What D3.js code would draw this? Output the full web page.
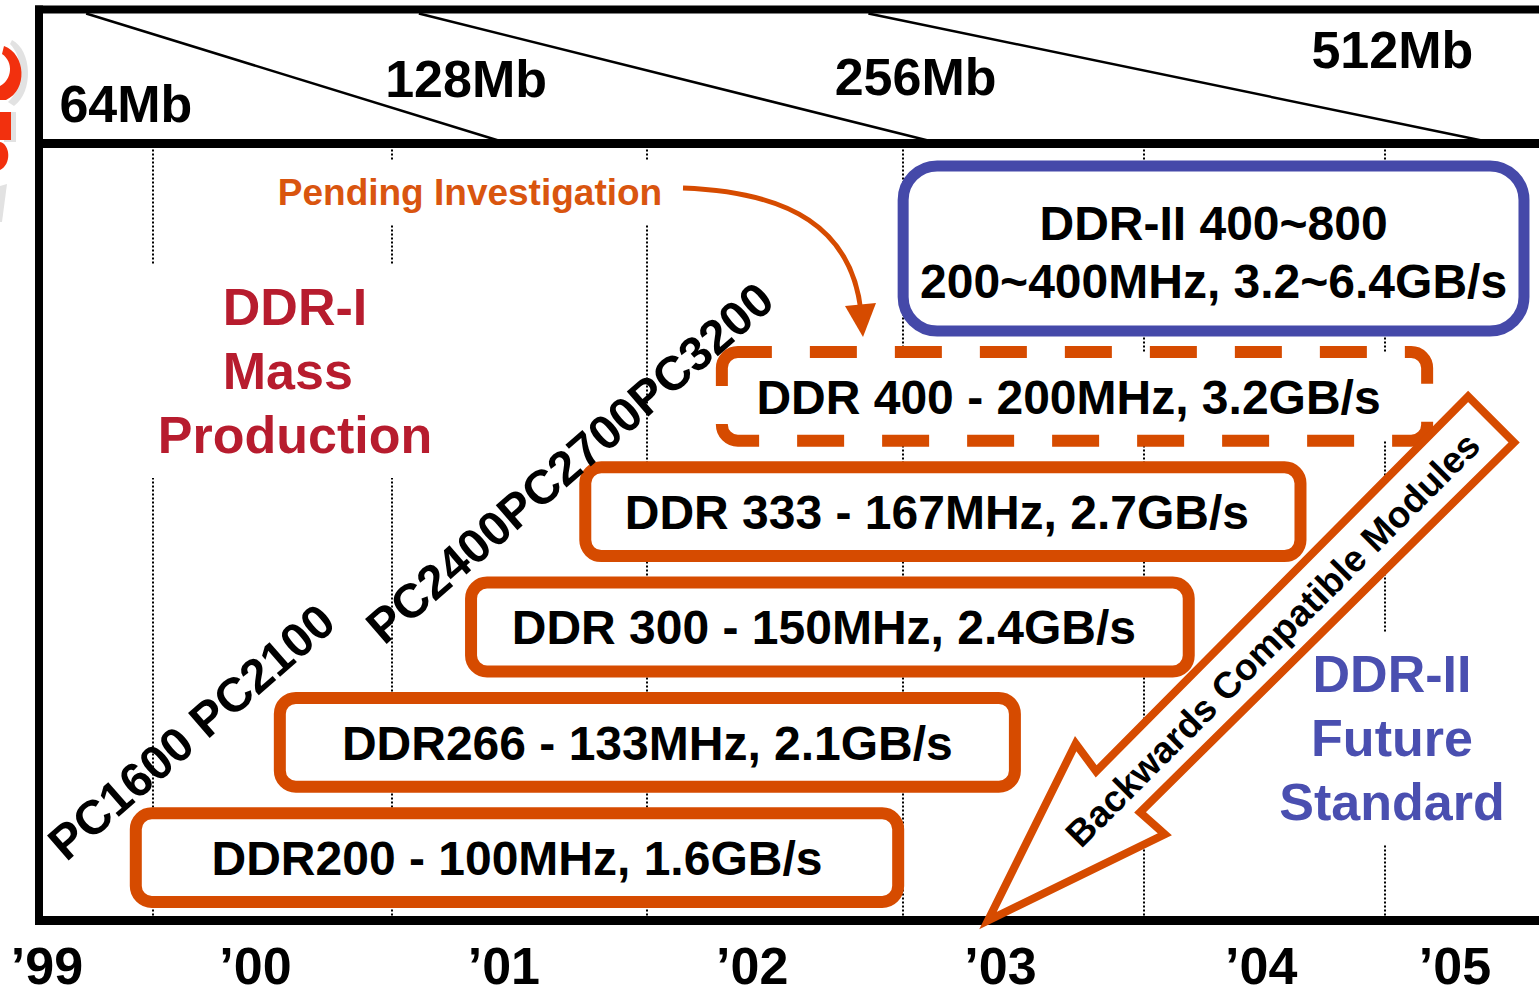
<!DOCTYPE html>
<html>
<head>
<meta charset="utf-8">
<script src="https://cdn.jsdelivr.net/npm/d3@7/dist/d3.min.js"></script>
<style>
  body { margin: 0; background: #fff; }
  text { font-family: "Liberation Sans", Arial, sans-serif; font-weight: bold; }
</style>
</head>
<body>
<div id="chart"></div>
<script>
// timeline data (years as decimals)
const yearLabels = ["\u201999", "\u201900", "\u201901", "\u201902", "\u201903", "\u201904", "\u201905"]
const yearTickAt = [1999.16, 2000, 2001, 2002, 2003, 2004.05, 2004.83]
const gridAt = [1999.59, 2000.55, 2001.58, 2002.61, 2003.58, 2004.55]

const densities = ["64Mb", "128Mb", "256Mb", "512Mb"]
const densityAt = [1999.48, 2000.85, 2002.66, 2004.58]
// density transition lines: year where they leave the top / reach the bottom
const transTop = [1999.32, 2000.66, 2002.47]
const transBottom = [2000.98, 2002.71, 2004.94]

const moduleLabels = ["DDR200 - 100MHz, 1.6GB/s", "DDR266 - 133MHz, 2.1GB/s", "DDR 300 - 150MHz, 2.4GB/s", "DDR 333 - 167MHz, 2.7GB/s", "DDR 400 - 200MHz, 3.2GB/s"]
const moduleStart = [1999.52, 2000.10, 2000.87, 2001.33, 2001.88]
const moduleEnd = [2002.59, 2003.06, 2003.76, 2004.21, 2004.72]
const modulePending = [false, false, false, false, true]
const pcNames = ["PC1600", "PC2100", "PC2400", "PC2700", "PC3200"]

const ddr2Lines = ["DDR-II 400~800", "200~400MHz, 3.2~6.4GB/s"]
const ddr2Start = 2002.61
const ddr2End = 2005.11

const orange = "#d64b00"
const crimson = "#b71c2e"
const blue = "#4549a9"

const width = 1539, height = 987
const headerTop = 9.5, headerBottom = 143.5, axisY = 920.5, frameLeft = 39

const svg = d3.select("#chart").append("svg")
    .attr("width", width)
    .attr("height", height)

const x = d3.scaleLinear().domain([2000, 2003]).range([255, 1000])
const y = d3.scaleBand()
    .domain(moduleLabels.slice().reverse())
    .range([352, 902])
    .paddingInner(0.23)

const modules = moduleLabels.map((label, i) => ({
    label, start: moduleStart[i], end: moduleEnd[i], pending: modulePending[i], pc: pcNames[i]
}))

//bit of the logo cut off at the left edge
const logo = svg.append("g")
logo.append("path").attr("fill", "#e2e2e2")
    .attr("d", "M12,40 C32,50 34,92 14,106 L8,102 C24,88 24,58 10,44 Z")
logo.append("path").attr("fill", "#f2300e")
    .attr("d", "M4,46 C26,54 28,90 6,100 L0,100 L0,86 C12,80 14,62 2,54 Z")
logo.append("rect").attr("x", 4).attr("y", 112).attr("width", 12).attr("height", 30).attr("fill", "#e2e2e2")
logo.append("rect").attr("x", 0).attr("y", 112).attr("width", 11).attr("height", 28).attr("fill", "#f2300e")
logo.append("path").attr("fill", "#f2300e").attr("d", "M0,142 C10,144 12,164 0,170 Z")
logo.append("path").attr("fill", "#e2e2e2").attr("d", "M0,186 L7,184 L2,222 L0,222 Z")

//dotted half-year lines
svg.append("g").selectAll("line")
    .data(gridAt)
    .join("line")
    .attr("x1", d => Math.round(x(d))).attr("x2", d => Math.round(x(d)))
    .attr("y1", headerBottom + 6).attr("y2", axisY - 5)
    .attr("stroke", "#000")
    .attr("stroke-width", 2)
    .attr("stroke-dasharray", "2,2")

//white blocks behind the free text
const bgs = [[270, 160, 400, 65], [140, 265, 305, 213], [1270, 632, 245, 213]]
svg.append("g").selectAll("rect")
    .data(bgs)
    .join("rect")
    .attr("x", d => d[0]).attr("y", d => d[1])
    .attr("width", d => d[2]).attr("height", d => d[3])
    .attr("fill", "#fff")

//header: density transitions
const header = svg.append("g")
header.selectAll("line")
    .data(transTop)
    .join("line")
    .attr("x1", (d, i) => x(d)).attr("y1", headerTop + 4)
    .attr("x2", (d, i) => x(transBottom[i])).attr("y2", headerBottom - 3)
    .attr("stroke", "#000")
    .attr("stroke-width", 2.5)
const densityBaseline = [122, 97, 95, 68]
header.selectAll("text")
    .data(densities)
    .join("text")
    .attr("x", (d, i) => x(densityAt[i]))
    .attr("y", (d, i) => densityBaseline[i])
    .attr("text-anchor", "middle")
    .style("font-size", "52px")
    .text(d => d)

//frame
svg.append("line").attr("x1", frameLeft - 4).attr("x2", width).attr("y1", headerTop).attr("y2", headerTop)
    .attr("stroke", "#000").attr("stroke-width", 8)
svg.append("line").attr("x1", frameLeft - 4).attr("x2", width).attr("y1", headerBottom).attr("y2", headerBottom)
    .attr("stroke", "#000").attr("stroke-width", 9)
svg.append("line").attr("x1", frameLeft).attr("x2", frameLeft).attr("y1", headerTop - 4).attr("y2", axisY + 4)
    .attr("stroke", "#000").attr("stroke-width", 8)
svg.append("line").attr("x1", frameLeft - 4).attr("x2", width).attr("y1", axisY).attr("y2", axisY)
    .attr("stroke", "#000").attr("stroke-width", 9)

//year axis
const axis = svg.append("g")
    .attr("transform", "translate(0," + axisY + ")")
    .call(d3.axisBottom(x)
        .tickValues(yearTickAt)
        .tickFormat(d => yearLabels[yearTickAt.indexOf(d)])
        .tickSize(0)
        .tickPadding(27))
axis.select(".domain").remove()
axis.selectAll("text")
    .attr("fill", "#000")
    .style("font-family", "'Liberation Sans', Arial, sans-serif")
    .style("font-weight", "bold")
    .style("font-size", "52px")

//DDR-II box
svg.append("rect")
    .attr("x", x(ddr2Start)).attr("y", 166)
    .attr("width", x(ddr2End) - x(ddr2Start)).attr("height", 165)
    .attr("rx", 34)
    .attr("fill", "#fff")
    .attr("stroke", blue)
    .attr("stroke-width", 11)
svg.append("g").selectAll("text")
    .data(ddr2Lines)
    .join("text")
    .attr("x", (x(ddr2Start) + x(ddr2End)) / 2)
    .attr("y", (d, i) => 240 + i * 58)
    .attr("text-anchor", "middle")
    .style("font-size", "48px")
    .text(d => d)

//module boxes
const boxes = svg.append("g").selectAll("g")
    .data(modules)
    .join("g")
boxes.append("rect")
    .attr("x", d => x(d.start))
    .attr("y", d => y(d.label))
    .attr("width", d => x(d.end) - x(d.start))
    .attr("height", y.bandwidth())
    .attr("rx", 16)
    .attr("fill", "#fff")
    .attr("stroke", orange)
    .attr("stroke-width", 12)
    .attr("stroke-dasharray", d => d.pending ? "47 38" : null)
    .attr("stroke-dashoffset", d => d.pending ? 13 : null)
boxes.append("text")
    .attr("x", d => (x(d.start) + x(d.end)) / 2 - (d.label.startsWith("DDR ") ? 6 : 0))
    .attr("y", d => y(d.label) + y.bandwidth() / 2)
    .attr("dy", "0.36em")
    .attr("text-anchor", "middle")
    .style("font-size", "48px")
    .text(d => d.label)

//PC module names along the diagonal
const pcGroups = [
    { text: pcNames.slice(0, 2).join(" "), x: x(1999.24), y: y(moduleLabels[0]) + y.bandwidth() / 2 + 5 },
    { text: pcNames.slice(2).join(""), x: x(2000.52), y: y(moduleLabels[2]) + y.bandwidth() / 2 + 19 }
]
svg.append("g").selectAll("text")
    .data(pcGroups)
    .join("text")
    .attr("transform", d => "translate(" + d.x + "," + d.y + ") rotate(-41)")
    .style("font-size", "48px")
    .style("white-space", "pre")
    .text(d => d.text)

//backwards compatible arrow
const tip = [988, axisY]
const arrowPts = [[0, 0], [187, -63], [182, -29], [710, -31], [710, 34], [184, 31], [186, 64]]
const rot = -Math.PI / 4
const toScreen = p => [tip[0] + p[0] * Math.cos(rot) - p[1] * Math.sin(rot),
                       tip[1] + p[0] * Math.sin(rot) + p[1] * Math.cos(rot)]
svg.append("path")
    .attr("d", "M" + arrowPts.map(p => toScreen(p).join(",")).join("L") + "Z")
    .attr("fill", "#fff")
    .attr("stroke", orange)
    .attr("stroke-width", 8)
    .attr("stroke-linejoin", "miter")
const mid = toScreen([400, 2])
svg.append("text")
    .attr("transform", "translate(" + mid[0] + "," + mid[1] + ") rotate(-45)")
    .attr("text-anchor", "middle")
    .attr("dy", "0.36em")
    .style("font-size", "37px")
    .text("Backwards Compatible Modules")

//free text
svg.append("text")
    .attr("x", 470).attr("y", 205)
    .attr("text-anchor", "middle")
    .attr("fill", "#d9550f")
    .style("font-size", "37px")
    .text("Pending Investigation")

svg.append("path")
    .attr("d", "M683,188 C790,192 852,228 861,312")
    .attr("fill", "none")
    .attr("stroke", orange)
    .attr("stroke-width", 5)
svg.append("path")
    .attr("d", "M845,306 L876,303 L863,337 Z")
    .attr("fill", orange)

svg.append("g").selectAll("text")
    .data(["DDR-I", "Mass ", "Production"])
    .join("text")
    .attr("x", 295)
    .attr("y", (d, i) => 325 + i * 64)
    .attr("text-anchor", "middle")
    .attr("fill", crimson)
    .style("white-space", "pre")
    .style("font-size", "52px")
    .text(d => d)

svg.append("g").selectAll("text")
    .data(["DDR-II", "Future", "Standard"])
    .join("text")
    .attr("x", 1392)
    .attr("y", (d, i) => 692 + i * 64)
    .attr("text-anchor", "middle")
    .attr("fill", "#4a4fb0")
    .style("font-size", "52px")
    .text(d => d)
</script>
</body>
</html>
